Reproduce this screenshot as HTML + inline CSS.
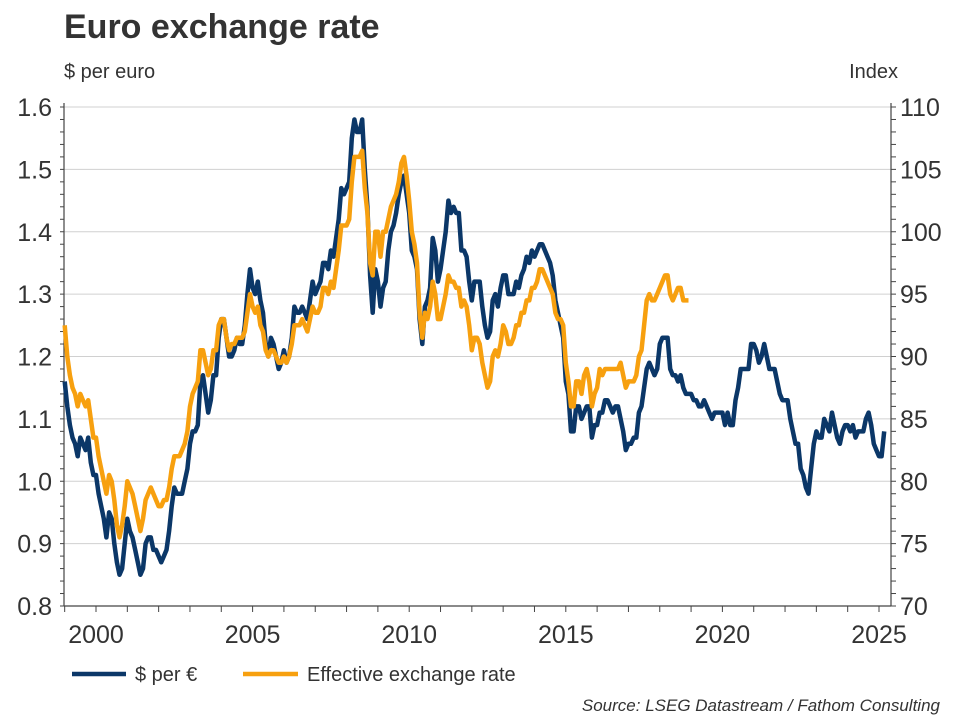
<!DOCTYPE html>
<html><head><meta charset="utf-8"><style>
body{margin:0;background:#fff;}
svg{display:block;font-family:"Liberation Sans",Arial,sans-serif;}
</style></head><body>
<svg id="chart" width="960" height="720">
<text x="64" y="38" font-size="34" font-weight="bold" fill="#333">Euro exchange rate</text>
<text x="64" y="78" font-size="20" fill="#333">$ per euro</text>
<text x="898" y="78" font-size="20" fill="#333" text-anchor="end">Index</text>
<g id="grid"></g>
<g id="axes"></g>
<g id="series"></g>
<g>
 <g><line x1="72" y1="674" x2="126" y2="674" stroke="#0b3768" stroke-width="4.5"/><text x="135" y="681" font-size="20" fill="#333">$ per €</text></g>
 <g><line x1="243" y1="674" x2="298" y2="674" stroke="#f7a00f" stroke-width="4.5"/><text x="307" y="681" font-size="20" fill="#333">Effective exchange rate</text></g>
</g>
<text x="940" y="711" font-size="17" font-style="italic" fill="#333" text-anchor="end">Source: LSEG Datastream / Fathom Consulting</text>
</svg>
<script>
const usdStartYear = 1999;
const usdValues = [
1.16,1.12,1.09,1.07,1.06,1.04,1.07,1.06,1.05,1.07,1.03,1.01,
1.01,0.98,0.96,0.94,0.91,0.95,0.94,0.90,0.87,0.85,0.86,0.90,
0.94,0.92,0.91,0.89,0.87,0.85,0.86,0.90,0.91,0.91,0.89,0.89,
0.88,0.87,0.88,0.89,0.92,0.96,0.99,0.98,0.98,0.98,1.00,1.02,
1.06,1.08,1.08,1.09,1.16,1.17,1.14,1.11,1.13,1.17,1.17,1.23,
1.26,1.26,1.23,1.20,1.20,1.21,1.23,1.22,1.22,1.25,1.30,1.34,
1.31,1.30,1.32,1.29,1.27,1.22,1.20,1.23,1.22,1.20,1.18,1.19,
1.21,1.19,1.20,1.23,1.28,1.27,1.27,1.28,1.27,1.26,1.29,1.32,
1.30,1.31,1.32,1.35,1.35,1.34,1.37,1.36,1.39,1.42,1.47,1.46,
1.47,1.48,1.55,1.58,1.56,1.56,1.58,1.50,1.44,1.33,1.27,1.34,
1.32,1.28,1.31,1.32,1.37,1.40,1.41,1.43,1.46,1.48,1.49,1.46,
1.43,1.37,1.36,1.34,1.26,1.22,1.28,1.29,1.31,1.39,1.37,1.32,
1.34,1.37,1.40,1.45,1.43,1.44,1.43,1.43,1.37,1.37,1.36,1.32,
1.29,1.32,1.32,1.32,1.28,1.25,1.23,1.24,1.29,1.30,1.28,1.31,
1.33,1.33,1.30,1.30,1.30,1.32,1.31,1.33,1.34,1.36,1.35,1.37,
1.36,1.37,1.38,1.38,1.37,1.36,1.35,1.33,1.29,1.27,1.25,1.23,
1.16,1.14,1.08,1.08,1.12,1.12,1.10,1.11,1.12,1.12,1.07,1.09,
1.09,1.11,1.11,1.13,1.13,1.12,1.11,1.12,1.12,1.10,1.08,1.05,
1.06,1.06,1.07,1.07,1.11,1.12,1.15,1.18,1.19,1.18,1.17,1.18,
1.22,1.23,1.23,1.23,1.18,1.17,1.17,1.16,1.17,1.15,1.14,1.14,
1.14,1.13,1.13,1.12,1.12,1.13,1.12,1.11,1.10,1.11,1.11,1.11,
1.11,1.09,1.11,1.09,1.09,1.13,1.15,1.18,1.18,1.18,1.18,1.22,
1.22,1.21,1.19,1.20,1.22,1.20,1.18,1.18,1.18,1.16,1.14,1.13,
1.13,1.13,1.10,1.08,1.06,1.06,1.02,1.01,0.99,0.98,1.02,1.06,
1.08,1.07,1.07,1.10,1.09,1.08,1.11,1.09,1.07,1.06,1.08,1.09,
1.09,1.08,1.09,1.07,1.08,1.08,1.08,1.10,1.11,1.09,1.06,1.05,
1.04,1.04,1.08];
const eerStartYear = 1999;
const eerValues = [
92.5,90,88.5,87.5,87,86,87,86.5,86,86.5,85,83.5,
83.5,82,81,80,79,80.5,80,78.5,76.5,75.5,76.5,78,
80,79.5,79,78,77,76,77,78.5,79,79.5,79,78.5,
78,78,78.5,78.5,79.5,81,82,82,82,82.5,83,84,
86,87,87.5,88,90.5,90.5,89.5,88.5,89,90.5,90.5,92.5,
93,93,91.5,90.5,91,91,91.5,91.5,91.5,92,93.5,95,
94,93.5,94,92.5,92,90.5,90,90.5,90.5,90,89.5,89.5,
90,89.5,90,91,92.5,92.5,92.5,93,92.5,92,93,94,
93.5,93.5,94,95.5,95.5,95,96,95.5,97,98.5,100.5,100.5,
100.5,101,104,106,106,106,106.5,103.5,101.5,97.5,96.5,100,
100,98,100,100,101,102,102.5,103,104,105.5,106,104.5,
102.5,100,99,97.5,93.5,91.5,93.5,93,94,96,95,93,
93,94,95,96.5,96,96,95.5,95.5,94,94.5,94,92.5,
90.5,91.5,91.5,91,89.5,88.5,87.5,88,90,90.5,90,91,
92.5,92,91,91,91.5,92.5,92.5,93.5,93.5,94.5,94.5,95.5,
95.5,96,97,97,96.5,96,95.5,95,93.5,93,93,92.5,
89.5,88,86,86,88,88,87,88.5,89,88,86,87,
87.5,89,88.5,89,89,89,89,89,89,89.5,88.5,87.5,
88,88,88,88.5,90,90.5,92.5,94.5,95,94.5,94.5,95,
95.5,96,96.5,96.5,95,94.5,95,95.5,95.5,94.5,94.5,94.5];
const leftTicks = [0.8,0.9,1.0,1.1,1.2,1.3,1.4,1.5,1.6];
const leftTickLabels = ["0.8","0.9","1.0","1.1","1.2","1.3","1.4","1.5","1.6"];
const rightTicks = [70,75,80,85,90,95,100,105,110];
const xTicks = [2000,2005,2010,2015,2020,2025];

const NS="http://www.w3.org/2000/svg";
const L=64,R=891,T=107,B=606;
const x=t=>96+(t-2000)*(879-96)/25;
const yL=v=>B-(v-0.8)/(0.8)*(B-T);
const yR=v=>B-(v-70)/40*(B-T);
function mk(tag,attrs,parent){const e=document.createElementNS(NS,tag);for(const k in attrs)e.setAttribute(k,attrs[k]);parent.appendChild(e);return e;}
const grid=document.getElementById('grid'),axes=document.getElementById('axes'),series=document.getElementById('series');
leftTicks.forEach((v,i)=>{
 if(i>0){const g=mk('line',{x1:L,x2:R,y1:yL(v),y2:yL(v),stroke:'#d0d0d0','stroke-width':1},grid);
 
 }
 const t=mk('text',{x:52,y:yL(v)+9,'font-size':25,fill:'#333','text-anchor':'end'},axes);t.textContent=leftTickLabels[i];
 
 
});
rightTicks.forEach(v=>{
 const t=mk('text',{x:900,y:yR(v)+9,'font-size':25,fill:'#333'},axes);t.textContent=v;
 
 
});
for(let v=0.8;v<=1.601;v+=0.02){mk('line',{x1:L-4,x2:L,y1:yL(v),y2:yL(v),stroke:'#444','stroke-width':1},axes);}
for(let v=70;v<=110;v+=1){mk('line',{x1:R,x2:R+5,y1:yR(v),y2:yR(v),stroke:'#444','stroke-width':1},axes);}
for(let yr=1999;yr<=2025;yr++){mk('line',{x1:x(yr),x2:x(yr),y1:B,y2:B+6,stroke:'#444','stroke-width':1},axes);}
xTicks.forEach(yr=>{const t=mk('text',{x:x(yr),y:643,'font-size':25,fill:'#333','text-anchor':'middle'},axes);t.textContent=yr;
 
 });
mk('line',{x1:L,x2:L,y1:T-4,y2:B,stroke:'#444','stroke-width':1.2},axes);
mk('line',{x1:R,x2:R,y1:T-4,y2:B,stroke:'#444','stroke-width':1.2},axes);
mk('line',{x1:L,x2:R,y1:B,y2:B,stroke:'#444','stroke-width':1.2},axes);
function path(vals,start,yf,color,name){
 const d=vals.map((v,i)=>(i?'L':'M')+x(start+i/12).toFixed(1)+','+yf(v).toFixed(1)).join('');
 const p=mk('path',{d:d,fill:'none',stroke:color,'stroke-width':4.5,'stroke-linejoin':'round'},series);
 
 
}
path(usdValues,usdStartYear,yL,'#0b3768','usd-per-euro-line');
path(eerValues,eerStartYear,yR,'#f7a00f','effective-exchange-rate-line');
</script>
</body></html>
